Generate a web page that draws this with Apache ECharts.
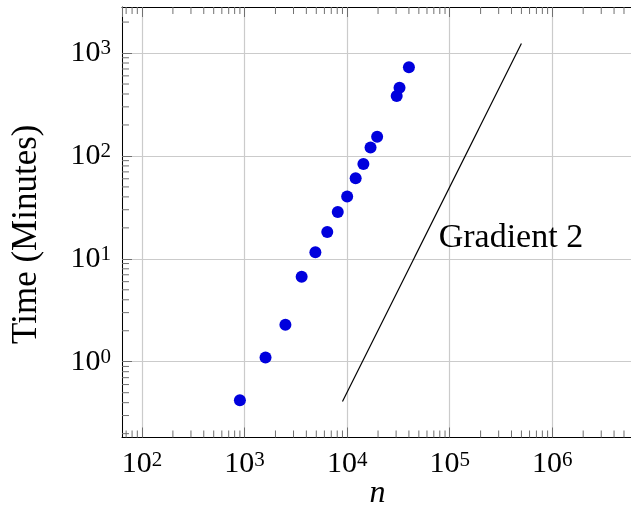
<!DOCTYPE html>
<html>
<head>
<meta charset="utf-8">
<script src="https://cdn.jsdelivr.net/npm/echarts@6/dist/echarts.min.js"></script>
<style>
  html, body { margin: 0; padding: 0; background: #fff; }
  #chart { width: 631px; height: 506px; }
</style>
</head>
<body>
<div id="chart"></div>
<script>
// measured runs: problem size n vs. run time (minutes)
const nValues = [900, 1600, 2500, 3600, 4900, 6400, 8100, 10000, 12100, 14400, 16900, 19600, 30400, 32400, 40000];
const timeMinutes = [0.423, 1.10, 2.29, 6.71, 11.6, 18.2, 28.5, 40.3, 60.7, 83.6, 121, 154, 383, 459, 729];

// reference line with slope 2 in log-log
const gradientN = [9000, 500000];
const gradientTime = [0.41, 1240];
const gradientLabel = 'Gradient 2';
const gradientLabelAt = [395000, 15.8];

const xRange = [63.8, 6.12e6];
const yRange = [0.1835, 2802];
const minorSteps = [2, 3, 4, 5, 6, 7, 8, 9];

const serif = '"Liberation Serif", "DejaVu Serif", serif';
const tickGray = '#707070';

// minor tick values (2..9 x 10^k) inside an axis range
function minorTicks(range) {
  let out = [];
  for (let k = Math.floor(Math.log10(range[0])); k <= Math.ceil(Math.log10(range[1])); k++) {
    minorSteps.forEach(s => {
      let v = s * Math.pow(10, k);
      if (v > range[0] && v < range[1]) out.push(v);
    });
  }
  return out;
}

function powLabel(v) {
  let e = Math.round(Math.log10(v));
  return '{b|10}{s|' + e + '}';
}

const labelRich = {
  b: { fontFamily: serif, fontSize: 30, lineHeight: 30, color: '#000' },
  s: { fontFamily: serif, fontSize: 21, lineHeight: 20, verticalAlign: 'top', color: '#000' }
};

const axisBase = {
  type: 'log',
  logBase: 10,
  axisLine: { show: true, lineStyle: { color: '#000', width: 1 } },
  axisTick: { show: true, inside: true, length: 10, lineStyle: { color: tickGray, width: 1 } },
  minorTick: { show: false },
  splitLine: { show: true, lineStyle: { color: '#cbcbcb', width: 1.2 } }
};

let chart = echarts.init(document.getElementById('chart'), null, { renderer: 'canvas' });

let option = {
  animation: false,
  backgroundColor: '#fff',
  grid: { left: 122, top: 7, width: 511, height: 430.5, containLabel: false, outerBoundsMode: 'none' },
  xAxis: [
    Object.assign({}, axisBase, {
      position: 'bottom',
      min: xRange[0], max: xRange[1],
      name: 'n',
      nameLocation: 'middle',
      nameGap: 40,
      nameMoveOverlap: false,
      nameTextStyle: { fontFamily: serif, fontSize: 32, fontStyle: 'italic', color: '#000', lineHeight: 32 },
      axisLabel: { margin: 12, showMinLabel: false, showMaxLabel: false, formatter: powLabel, rich: labelRich }
    }),
    Object.assign({}, axisBase, {
      position: 'top',
      min: xRange[0], max: xRange[1],
      axisLabel: { show: false },
      splitLine: { show: false }
    })
  ],
  yAxis: [
    Object.assign({}, axisBase, {
      position: 'left',
      min: yRange[0], max: yRange[1],
      name: 'Time (Minutes)',
      nameLocation: 'middle',
      nameGap: 78,
      nameMoveOverlap: false,
      nameTextStyle: { fontFamily: serif, fontSize: 35, color: '#000', padding: [0, 24, 0, 0] },
      axisLabel: { margin: 11, showMinLabel: false, showMaxLabel: false, formatter: powLabel, rich: labelRich }
    })
  ],
  series: [
    {
      name: 'minorX',
      type: 'custom',
      silent: true,
      clip: false,
      xAxisIndex: 0,
      yAxisIndex: 0,
      data: minorTicks(xRange).map(v => [v, 1]),
      renderItem: function (params, api) {
        let cs = params.coordSys;
        let x = api.coord([api.value(0), 1])[0];
        let st = { stroke: tickGray, lineWidth: 1 };
        return {
          type: 'group',
          children: [
            { type: 'line', shape: { x1: x, y1: cs.y + cs.height, x2: x, y2: cs.y + cs.height - 7 }, style: st },
            { type: 'line', shape: { x1: x, y1: cs.y, x2: x, y2: cs.y + 7 }, style: st }
          ]
        };
      }
    },
    {
      name: 'minorY',
      type: 'custom',
      silent: true,
      clip: false,
      xAxisIndex: 0,
      yAxisIndex: 0,
      data: minorTicks(yRange).map(v => [100, v]),
      renderItem: function (params, api) {
        let cs = params.coordSys;
        let y = api.coord([100, api.value(1)])[1];
        return { type: 'line', shape: { x1: cs.x, y1: y, x2: cs.x + 7, y2: y }, style: { stroke: tickGray, lineWidth: 1 } };
      }
    },
    {
      name: 'runs',
      type: 'scatter',
      symbol: 'circle',
      symbolSize: 12,
      itemStyle: { color: '#0000dd', opacity: 1 },
      data: nValues.map((n, i) => [n, timeMinutes[i]]),
      z: 5
    },
    {
      name: 'gradient',
      type: 'line',
      symbol: 'none',
      lineStyle: { color: '#000', width: 1.2 },
      data: gradientN.map((n, i) => [n, gradientTime[i]]),
      z: 4
    },
    {
      name: 'gradientLabel',
      type: 'scatter',
      symbolSize: 1,
      silent: true,
      itemStyle: { color: 'rgba(0,0,0,0)', opacity: 1 },
      label: { show: true, position: 'inside', formatter: gradientLabel, fontFamily: serif, fontSize: 34, color: '#000', opacity: 1 },
      data: [gradientLabelAt],
      z: 6
    }
  ]
};

chart.setOption(option);
</script>
</body>
</html>
